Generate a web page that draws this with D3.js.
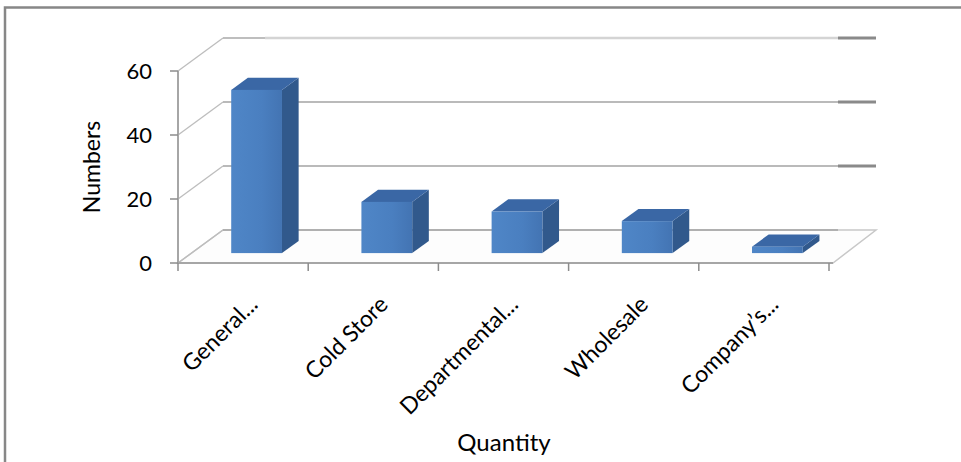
<!DOCTYPE html>
<html>
<head>
<meta charset="utf-8">
<script src="https://cdn.jsdelivr.net/npm/d3@7/dist/d3.min.js"></script>
<style>
  html, body { margin: 0; padding: 0; background: #fff; }
  svg { display: block; }
  text { font-family: Lato, "Open Sans", sans-serif; fill: #000; }
</style>
</head>
<body>
<svg id="chart" width="961" height="462"></svg>
<script>
// Outlet types and how many of each were counted
const categories = ["General...", "Cold Store", "Departmental...", "Wholesale", "Company\u2019s..."];
const values = [51, 16, 13, 10, 2];
const yTicks = [0, 20, 40, 60];
const yTitle = "Numbers";
const xTitle = "Quantity";

const svg = d3.select("#chart");

// front plane of the 3-D plot box
const x0 = 178, x1 = 829, yBase = 263, yTop = 71;
// oblique depth offset of the back wall
const DX = 45, DY = -33;
// bars sit between these fractions of the floor depth
const dFront = 0.3, dBack = 0.67;

const x = d3.scaleBand().domain(categories).range([x0, x1]).paddingInner(0).paddingOuter(0);
const y = d3.scaleLinear().domain([0, 60]).range([yBase, yTop]);
const barW = x.bandwidth() * 0.39;

// chart frame
svg.append("rect")
  .attr("x", 5).attr("y", 7.5).attr("width", 1000).attr("height", 500)
  .attr("fill", "none").attr("stroke", "#878787").attr("stroke-width", 2.5);

const g = svg.append("g");

// floor
const floor = [[x0, yBase], [x1 + 4, yBase], [x1 + DX + 2, yBase + DY], [x0 + DX, yBase + DY]];
g.append("path")
  .attr("d", d3.line()(floor) + "Z")
  .attr("fill", "#fdfdfd").attr("stroke", "#c8c8c8").attr("stroke-width", 1.5);

// side wall lines and back wall gridlines
yTicks.forEach(t => {
  const yf = y(t), yb = y(t) + DY;
  g.append("line")
    .attr("x1", x0).attr("y1", yf).attr("x2", x0 + DX).attr("y2", yb)
    .attr("stroke", "#bdbdbd").attr("stroke-width", 1.3);
  if (t === 60) {
    g.append("line").attr("x1", x0 + DX).attr("x2", x0 + 87).attr("y1", yb).attr("y2", yb)
      .attr("stroke", "#a9a9a9").attr("stroke-width", 1.6);
    g.append("line").attr("x1", x0 + 87).attr("x2", x1 + 9).attr("y1", yb).attr("y2", yb)
      .attr("stroke", "#d4d4d4").attr("stroke-width", 2.5);
  } else {
    g.append("line").attr("x1", x0 + DX).attr("x2", x1 + 9).attr("y1", yb).attr("y2", yb)
      .attr("stroke", "#a3a3a3").attr("stroke-width", 1.6);
  }
  if (t > 0) {
    g.append("line").attr("x1", x1 + 9).attr("x2", x1 + DX + 2).attr("y1", yb).attr("y2", yb)
      .attr("stroke", "#8a8a8a").attr("stroke-width", 3);
  }
});

// y axis
g.append("line").attr("x1", x0).attr("x2", x0).attr("y1", yTop).attr("y2", yBase)
  .attr("stroke", "#a6a6a6").attr("stroke-width", 2);
yTicks.forEach(t => {
  g.append("line").attr("x1", x0 - 8).attr("x2", x0).attr("y1", y(t)).attr("y2", y(t))
    .attr("stroke", "#8c8c8c").attr("stroke-width", 1.5);
  g.append("text").attr("x", x0 - 26).attr("y", y(t) + 2)
    .attr("text-anchor", "end").attr("dominant-baseline", "middle")
    .style("font-size", "22px").text(t);
});

// x axis
g.append("line").attr("x1", x0).attr("x2", x1 + 4).attr("y1", yBase).attr("y2", yBase)
  .attr("stroke", "#a6a6a6").attr("stroke-width", 2);
const bounds = categories.map(c => x(c)).concat([x1]);
bounds.forEach(bx => {
  g.append("line").attr("x1", bx).attr("x2", bx).attr("y1", yBase).attr("y2", yBase + 8)
    .attr("stroke", "#8c8c8c").attr("stroke-width", 1.5);
});

// bar shading
const defs = svg.append("defs");
const grad = defs.append("linearGradient").attr("id", "front").attr("x1", "0").attr("x2", "1").attr("y1", "0").attr("y2", "0");
grad.append("stop").attr("offset", "0").attr("stop-color", "#4f86c7");
grad.append("stop").attr("offset", "0.6").attr("stop-color", "#4a7fc0");
grad.append("stop").attr("offset", "1").attr("stop-color", "#4374b3");

// bars
const bars = g.append("g").selectAll("g").data(categories.map((c, i) => ({ c, v: values[i] }))).join("g");
bars.each(function (d) {
  const sel = d3.select(this);
  const cx = x(d.c) + x.bandwidth() / 2;
  const fx = cx - barW / 2 + DX * dFront;
  const fy0 = y(0) + DY * dFront;
  const fy1 = y(d.v) + DY * dFront;
  const ddx = DX * (dBack - dFront), ddy = DY * (dBack - dFront);
  // side face
  sel.append("path").attr("d", d3.line()([[fx + barW, fy0], [fx + barW + ddx, fy0 + ddy], [fx + barW + ddx, fy1 + ddy], [fx + barW, fy1]]) + "Z")
    .attr("fill", "#31598c");
  // top face
  sel.append("path").attr("d", d3.line()([[fx, fy1], [fx + ddx, fy1 + ddy], [fx + barW + ddx, fy1 + ddy], [fx + barW, fy1]]) + "Z")
    .attr("fill", "#3a67a5");
  // front face
  sel.append("rect").attr("x", fx).attr("y", fy1).attr("width", barW).attr("height", fy0 - fy1)
    .attr("fill", "url(#front)");
});

// category labels
categories.forEach(c => {
  const cx = x(c) + x.bandwidth() / 2;
  g.append("text")
    .attr("transform", `translate(${cx + 16},${yBase + 43}) rotate(-45)`)
    .attr("text-anchor", "end")
    .style("font-size", "23px").text(c);
});

// axis titles
svg.append("text").attr("transform", `translate(100,${(yTop + yBase) / 2}) rotate(-90)`)
  .attr("text-anchor", "middle").style("font-size", "23px").text(yTitle);
svg.append("text").attr("x", 504).attr("y", 451)
  .attr("text-anchor", "middle").style("font-size", "24px").text(xTitle);
</script>
</body>
</html>
